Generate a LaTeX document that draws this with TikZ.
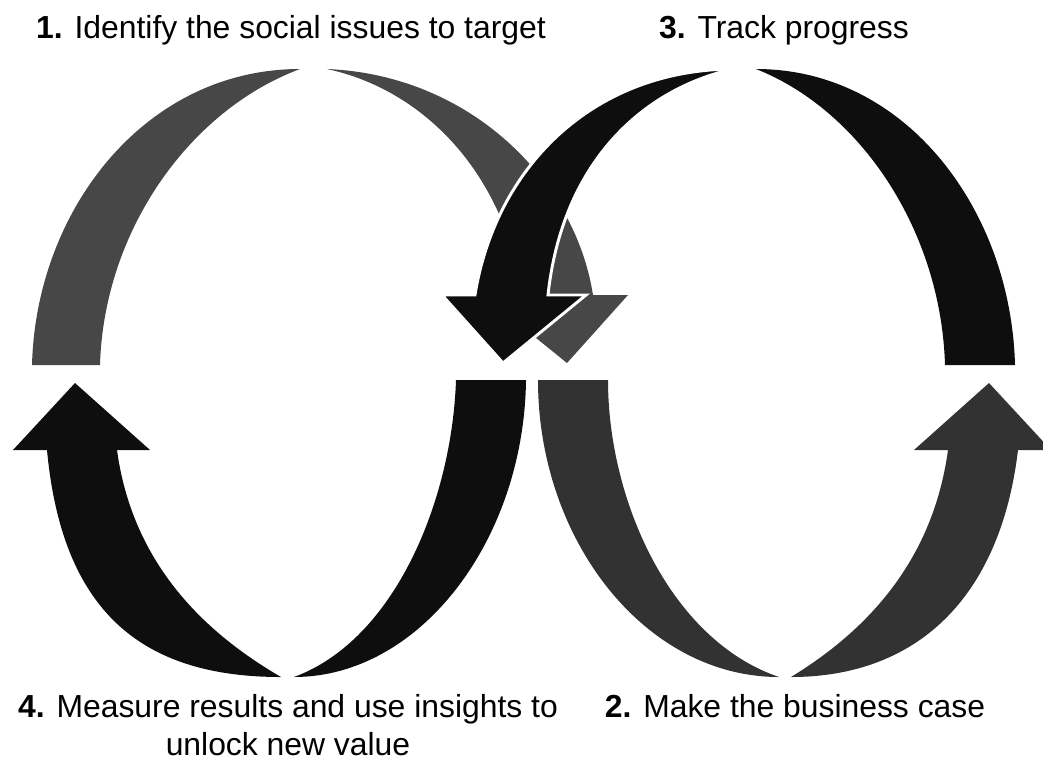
\documentclass[tikz,border=0pt]{standalone}
\usepackage{fontspec}
\setmainfont{Liberation Sans}
\definecolor{greyA}{HTML}{474747}
\definecolor{greyB}{HTML}{323232}
\definecolor{inkblack}{HTML}{0E0E0E}
\begin{document}
\begin{tikzpicture}[x=0.75pt,y=-0.75pt,
  lbl/.style={inner sep=0pt, font=\fontsize{23.9pt}{28.5pt}\selectfont},
  lightband/.style={fill=greyA, draw=none},
  darkband/.style={fill=greyB, draw=none},
  blackband/.style={fill=inkblack, draw=none},
  rimmed/.style={draw=white, line width=2.2pt, line join=miter}]
\useasboundingbox (0,0) rectangle (1043,769);

% left loop, upper left quarter
\fill[lightband] (32,365) .. controls (36,210) and (145,69) .. (300,69)
  .. controls (190,110) and (104,230) .. (100,365) -- cycle;

% left loop, upper right quarter, arrow pointing down
\fill[lightband] (327,69) .. controls (470,75) and (575,180) .. (593,295)
  -- (628,295) -- (567,363) -- (483,295) -- (522,295)
  .. controls (505,175) and (425,90) .. (327,69) -- cycle;

% right loop, upper left quarter, arrow pointing down (laid over the grey one)
\filldraw[blackband, rimmed] (733,69) .. controls (590,70) and (495,170) .. (475,295)
  -- (442,295) -- (503,363) -- (586,295) -- (548,295)
  .. controls (562,165) and (640,90) .. (733,69) -- cycle;

% right loop, upper right quarter
\fill[blackband] (756,69) .. controls (906,69) and (1011,210) .. (1015,365)
  -- (945,365) .. controls (941,230) and (860,110) .. (756,69) -- cycle;

% left loop, lower left quarter, arrow pointing up
\fill[blackband] (281,677) .. controls (140,677) and (62,610) .. (47,450)
  -- (13,450) -- (75,383) -- (150,450) -- (117,450)
  .. controls (132,560) and (200,630) .. (281,677) -- cycle;

% left loop, lower right quarter
\fill[blackband] (456,380) -- (526,380) .. controls (524,540) and (420,677) .. (294,677)
  .. controls (395,640) and (452,500) .. (456,380) -- cycle;

% right loop, lower left quarter
\fill[darkband] (538,380) -- (608,380) .. controls (608,500) and (670,640) .. (779,677)
  .. controls (645,677) and (538,540) .. (538,380) -- cycle;

% right loop, lower right quarter, arrow pointing up
\fill[darkband] (791,677) .. controls (915,677) and (1000,600) .. (1018,450)
  -- (1051,450) -- (989,383) -- (914,450) -- (948,450)
  .. controls (933,560) and (868,630) .. (791,677) -- cycle;

% step labels
\node[lbl, anchor=base] (step1) at (291,38) {\textbf{1.} Identify the social issues to target};
\node[lbl, anchor=base] (step3) at (784,38) {\textbf{3.} Track progress};
\node[lbl, anchor=north, align=center] (step4) at (288,694)
  {\textbf{4.} Measure results and use insights to\\unlock new value};
\node[lbl, anchor=base] (step2) at (795,717) {\textbf{2.} Make the business case};
\end{tikzpicture}
\end{document}
